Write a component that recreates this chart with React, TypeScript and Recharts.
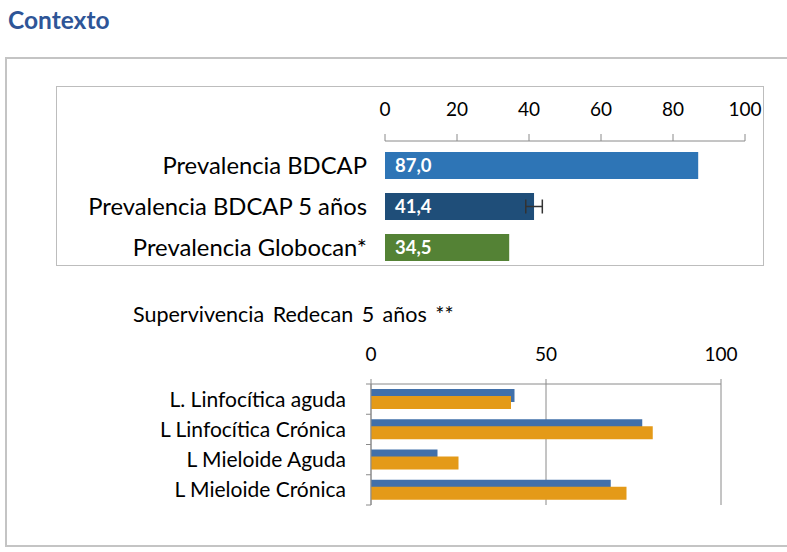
import { BarChart, Bar, XAxis, YAxis, Cell, LabelList, ErrorBar, CartesianGrid } from "recharts";

const topCategories = ["Prevalencia BDCAP", "Prevalencia BDCAP 5 años", "Prevalencia Globocan*"];
const topValues = [87.0, 41.4, 34.5];
const topErrors = [0, 2.3, 0];
const topColors = ["#2E75B6", "#1F4E79", "#548235"];
const topTicks = [0, 20, 40, 60, 80, 100];

const survCategories = ["L. Linfocítica aguda", "L Linfocítica Crónica", "L Mieloide Aguda", "L Mieloide Crónica"];
const survBlue = [41, 77.5, 19, 68.5];
const survOrange = [40, 80.5, 25, 73];
const survTicks = [0, 50, 100];

const FONT = "Lato, 'Liberation Sans', sans-serif";
const AXIS = "#8a8a8a";

const topData = topCategories.map((name, i) => ({ name, value: topValues[i], err: topErrors[i] }));
const survData = survCategories.map((name, i) => ({ name, a: survBlue[i], b: survOrange[i] }));

const fmt = (v: any) => Number(v).toFixed(1).replace(".", ",");

// category labels + little tick marks between categories (like excel)
const SurvTick = (props: any) => {
  const { x, y, payload, index } = props;
  const half = payload.offset || 0;
  const ax = x + 25;
  return (
    <g>
      <text x={x} y={y} dy="0.36em" textAnchor="end" fontSize={21} fontFamily={FONT} fill="#000">
        {payload.value}
      </text>
      <line x1={ax - 5} x2={ax} y1={y - half} y2={y - half} stroke={AXIS} />
      {index === survCategories.length - 1 && (
        <line x1={ax - 5} x2={ax} y1={y + half} y2={y + half} stroke={AXIS} />
      )}
    </g>
  );
};

export default function App() {
  return (
    <div style={{ position: "absolute", left: 0, top: 0, width: 787, height: 552, background: "#fff", fontFamily: FONT }}>
      <div style={{ position: "absolute", left: 8, top: 5, fontSize: 24.5, fontWeight: 700, color: "#2E5597" }}>
        Contexto
      </div>
      <div
        style={{
          position: "absolute",
          left: 5,
          top: 57,
          width: 800,
          height: 490,
          border: "2px solid #c4c4c4",
          boxSizing: "border-box",
        }}
      />
      <div
        style={{
          position: "absolute",
          left: 56,
          top: 86,
          width: 708,
          height: 180,
          border: "1px solid #bdbdbd",
          boxSizing: "border-box",
        }}
      >
        <div style={{ position: "absolute", left: 0, top: 0 }}>
          <BarChart
            width={706}
            height={181}
            layout="vertical"
            data={topData}
            margin={{ top: 0, right: 18, bottom: 0, left: 0 }}
            barSize={27}
          >
            <XAxis
              type="number"
              orientation="top"
              domain={[0, 100]}
              ticks={topTicks}
              height={54}
              stroke={AXIS}
              tickSize={7}
              tickMargin={18}
              tick={{ fontSize: 19, fill: "#000", fontFamily: FONT }}
            />
            <YAxis
              type="category"
              dataKey="name"
              width={328}
              axisLine={false}
              tickLine={false}
              tickSize={0}
              tickMargin={18}
              padding={{ top: 4 }}
              tick={{ fontSize: 23.8, fill: "#000", fontFamily: FONT }}
            />
            <Bar dataKey="value" isAnimationActive={false}>
              {topData.map((d, i) => (
                <Cell key={d.name} fill={topColors[i]} />
              ))}
              <LabelList
                dataKey="value"
                position="insideLeft"
                offset={10}
                formatter={fmt}
                fill="#fff"
                fontWeight={700}
                fontSize={18.5}
                fontFamily={FONT}
              />
              <ErrorBar dataKey="err" direction="x" width={7} stroke="#333" strokeWidth={1.5} />
            </Bar>
          </BarChart>
        </div>
      </div>

      <div style={{ position: "absolute", left: 133, top: 301, fontSize: 21.5, color: "#000", wordSpacing: 3 }}>
        Supervivencia Redecan 5 años **
      </div>
      <div style={{ position: "absolute", left: 100, top: 330 }}>
        <BarChart
          width={680}
          height={180}
          layout="vertical"
          data={survData}
          margin={{ top: 0, right: 59, bottom: 5, left: 0 }}
          barSize={13}
          barGap={-6}
        >
          <CartesianGrid horizontal={false} stroke={AXIS} />
          <XAxis
            type="number"
            orientation="top"
            domain={[0, 100]}
            ticks={survTicks}
            height={54}
            stroke={AXIS}
            tickSize={5}
            tickMargin={18}
            tick={{ fontSize: 19, fill: "#000", fontFamily: FONT }}
          />
          <YAxis
            type="category"
            dataKey="name"
            width={271}
            stroke={AXIS}
            tickLine={false}
            tickSize={0}
            tickMargin={25}
            tick={<SurvTick />}
          />
          <Bar dataKey="a" fill="#4170AA" isAnimationActive={false} />
          <Bar dataKey="b" fill="#E49A18" isAnimationActive={false} />
        </BarChart>
      </div>
    </div>
  );
}
